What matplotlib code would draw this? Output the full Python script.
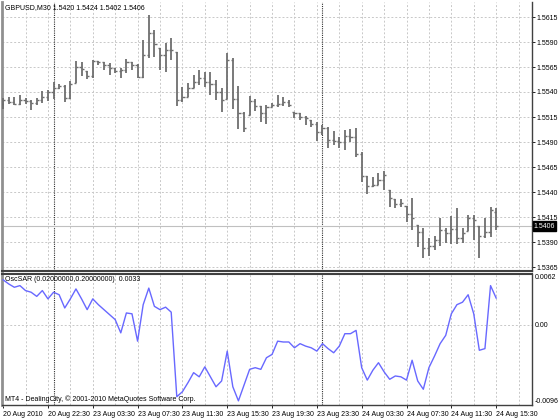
import matplotlib
matplotlib.use("Agg")
import matplotlib.pyplot as plt

plt.rcParams['font.family'] = ['Liberation Sans', 'DejaVu Sans']

# ---------------- data ----------------
symbol_header = "GBPUSD,M30 1.5420 1.5424 1.5402 1.5406"
osc_title = "OscSAR (0.02000000,0.20000000)  0.0033"
footer = "MT4 - DealingCity, \u00a9 2001-2010 MetaQuotes Software Corp."

opens = [1.5528, 1.5532, 1.5530, 1.5528, 1.5532, 1.5531, 1.5529, 1.5532, 1.5535, 1.5540,
         1.5544, 1.5546, 1.5534, 1.5549, 1.5565, 1.5561, 1.5556, 1.5571, 1.5570, 1.5567,
         1.5564, 1.5561, 1.5562, 1.5570, 1.5567, 1.5555, 1.5577, 1.5599, 1.5584, 1.5577,
         1.5582, 1.5580, 1.5532, 1.5535, 1.5544, 1.5550, 1.5554, 1.5550, 1.5548, 1.5540,
         1.5533, 1.5572, 1.5533, 1.5519, 1.5517, 1.5531, 1.5526, 1.5519, 1.5525, 1.5527,
         1.5528, 1.5530, 1.5520, 1.5519, 1.5515, 1.5512, 1.5508, 1.5500, 1.5504, 1.5492,
         1.5491, 1.5490, 1.5496, 1.5495, 1.5478, 1.5456, 1.5446, 1.5447, 1.5452, 1.5442,
         1.5433, 1.5428, 1.5426, 1.5418, 1.5407, 1.5400, 1.5384, 1.5386, 1.5392, 1.5402,
         1.5399, 1.5403, 1.5394, 1.5401, 1.5414, 1.5406, 1.5396, 1.5400, 1.5420]
highs = [1.5534, 1.5535, 1.5535, 1.5537, 1.5534, 1.5532, 1.5534, 1.5541, 1.5542, 1.5550,
         1.5548, 1.5547, 1.5551, 1.5571, 1.5570, 1.5561, 1.5572, 1.5571, 1.5570, 1.5569,
         1.5564, 1.5564, 1.5573, 1.5570, 1.5568, 1.5592, 1.5617, 1.5602, 1.5584, 1.5589,
         1.5594, 1.5580, 1.5545, 1.5549, 1.5557, 1.5562, 1.5560, 1.5560, 1.5552, 1.5544,
         1.5579, 1.5574, 1.5546, 1.5520, 1.5536, 1.5533, 1.5526, 1.5527, 1.5529, 1.5537,
         1.5535, 1.5532, 1.5520, 1.5519, 1.5516, 1.5512, 1.5510, 1.5507, 1.5505, 1.5501,
         1.5495, 1.5502, 1.5503, 1.5504, 1.5480, 1.5456, 1.5455, 1.5459, 1.5461, 1.5442,
         1.5433, 1.5433, 1.5426, 1.5434, 1.5407, 1.5404, 1.5394, 1.5396, 1.5414, 1.5404,
         1.5416, 1.5424, 1.5404, 1.5417, 1.5417, 1.5406, 1.5414, 1.5425, 1.5424]
lows = [1.5523, 1.5528, 1.5527, 1.5527, 1.5528, 1.5522, 1.5527, 1.5529, 1.5531, 1.5533,
        1.5543, 1.5530, 1.5533, 1.5549, 1.5556, 1.5553, 1.5554, 1.5567, 1.5562, 1.5557,
        1.5559, 1.5554, 1.5559, 1.5562, 1.5554, 1.5554, 1.5574, 1.5575, 1.5562, 1.5560,
        1.5572, 1.5526, 1.5530, 1.5535, 1.5544, 1.5547, 1.5545, 1.5537, 1.5532, 1.5520,
        1.5533, 1.5523, 1.5503, 1.5500, 1.5517, 1.5521, 1.5510, 1.5508, 1.5525, 1.5525,
        1.5526, 1.5525, 1.5514, 1.5512, 1.5507, 1.5505, 1.5491, 1.5497, 1.5484, 1.5487,
        1.5484, 1.5482, 1.5490, 1.5475, 1.5450, 1.5438, 1.5445, 1.5447, 1.5442, 1.5425,
        1.5424, 1.5425, 1.5410, 1.5402, 1.5385, 1.5374, 1.5376, 1.5382, 1.5386, 1.5389,
        1.5388, 1.5388, 1.5389, 1.5401, 1.5392, 1.5374, 1.5394, 1.5395, 1.5402]
closes = [1.5532, 1.5530, 1.5528, 1.5532, 1.5531, 1.5529, 1.5532, 1.5535, 1.5540, 1.5544,
          1.5546, 1.5534, 1.5548, 1.5565, 1.5563, 1.5556, 1.5571, 1.5570, 1.5567, 1.5564,
          1.5561, 1.5562, 1.5570, 1.5567, 1.5555, 1.5577, 1.5599, 1.5588, 1.5577, 1.5582,
          1.5582, 1.5532, 1.5535, 1.5544, 1.5550, 1.5554, 1.5550, 1.5548, 1.5540, 1.5532,
          1.5572, 1.5533, 1.5519, 1.5504, 1.5531, 1.5526, 1.5519, 1.5525, 1.5527, 1.5528,
          1.5530, 1.5527, 1.5519, 1.5515, 1.5514, 1.5508, 1.5500, 1.5504, 1.5492, 1.5491,
          1.5490, 1.5496, 1.5495, 1.5478, 1.5456, 1.5446, 1.5447, 1.5452, 1.5457, 1.5434,
          1.5428, 1.5429, 1.5418, 1.5414, 1.5400, 1.5384, 1.5386, 1.5392, 1.5402, 1.5399,
          1.5403, 1.5394, 1.5399, 1.5414, 1.5412, 1.5396, 1.5400, 1.5422, 1.5406]
osc = [0.0055, 0.0050, 0.0046, 0.0048, 0.0042, 0.0040, 0.0035, 0.0042, 0.0032, 0.0040,
       0.0037, 0.0021, 0.0032, 0.0044, 0.0032, 0.0019, 0.0032, 0.0025, 0.0019, 0.0013,
       0.0007, -0.0009, 0.0015, 0.0014, -0.0019, 0.0025, 0.0045, 0.0023, 0.0019, 0.0022,
       0.0016, -0.0086, -0.0080, -0.0069, -0.0057, -0.0062, -0.0050, -0.0062, -0.0074, -0.0067,
       -0.0031, -0.0074, -0.0091, -0.0072, -0.0053, -0.0051, -0.0053, -0.0039, -0.0035, -0.0019,
       -0.0020, -0.0020, -0.0027, -0.0022, -0.0025, -0.0027, -0.0031, -0.0022, -0.0028, -0.0033,
       -0.0025, -0.0010, -0.0010, -0.0006, -0.0051, -0.0066, -0.0054, -0.0045, -0.0056, -0.0065,
       -0.0061, -0.0062, -0.0066, -0.0042, -0.0067, -0.0077, -0.0051, -0.0037, -0.0022, -0.0012,
       0.0014, 0.0025, 0.0028, 0.0037, 0.0014, -0.0030, -0.0028, 0.0048, 0.0033]

price_levels = [1.5615, 1.5590, 1.5565, 1.5540, 1.5515, 1.5490, 1.5465, 1.5440, 1.5415, 1.5390, 1.5365]
price_labels = ["1.5615", "1.5590", "1.5565", "1.5540", "1.5515", "1.5490", "1.5465", "1.5440", "1.5415", "1.5390", "1.5365"]
time_pos = [0, 8, 16, 24, 32, 40, 48, 56, 64, 72, 80, 88]
time_labels = ["20 Aug 2010", "20 Aug 22:30", "23 Aug 03:30", "23 Aug 07:30", "23 Aug 11:30",
               "23 Aug 15:30", "23 Aug 19:30", "23 Aug 23:30", "24 Aug 03:30", "24 Aug 07:30",
               "24 Aug 11:30", "24 Aug 15:30"]
day_separators = [9, 57]
osc_levels = [0.0062, 0.0, -0.0096]
osc_labels = ["0.0062", "0.00", "-0.0096"]

# ---------------- figure ----------------
W, H = 560, 420
fig = plt.figure(figsize=(W / 100, H / 100), dpi=100, facecolor='white')
ax1 = fig.add_axes([2 / W, 1 - 271 / H, 530 / W, 269 / H])
ax2 = fig.add_axes([2 / W, 1 - 405 / H, 530 / W, 131 / H])

FS = 5.0
GRID = dict(color='#c8c8c8', linestyle=(0, (2, 2)), linewidth=0.7)
x = list(range(len(closes)))
xlim = (-0.2, 94.4)

for ax in (ax1, ax2):
    ax.set_xlim(*xlim)
    ax.set_facecolor('white')
    for gx in range(4, 95, 4):
        ax.axvline(gx, zorder=0, **GRID)
    for d in day_separators:
        ax.axvline(d, color='#303030', linestyle=(0, (1, 1)), linewidth=0.8, zorder=1)
    ax.spines['left'].set_color('#909090')
    ax.spines['left'].set_linewidth(2.0)
    ax.spines['right'].set_color('#404040')
    ax.spines['right'].set_linewidth(1.0)
    ax.tick_params(axis='x', which='both', bottom=False, labelbottom=False)

# main panel
ax1.set_ylim(1.5361, 1.5630)
for lv in price_levels:
    ax1.axhline(lv, zorder=0, **GRID)
ax1.axhline(closes[-1], color='#c0c0c0', linewidth=0.8, zorder=1)
bar_col = '#6e6e6e'
ax1.vlines(x, lows, highs, color=bar_col, linewidth=1.3, zorder=3)
ax1.hlines(opens, [i - 0.38 for i in x], x, color=bar_col, linewidth=1.0, zorder=3)
ax1.hlines(closes, x, [i + 0.38 for i in x], color=bar_col, linewidth=1.0, zorder=3)
ax1.yaxis.tick_right()
ax1.set_yticks(price_levels)
ax1.set_yticklabels(price_labels)
ax1.tick_params(axis='y', length=2, width=0.6, pad=1.0, labelsize=FS, colors='black')
ax1.spines['top'].set_visible(False)
ax1.spines['bottom'].set_color('#404040')
ax1.spines['bottom'].set_linewidth(1.5)
ax1.text(0.006, 0.992, symbol_header, transform=ax1.transAxes, fontsize=FS,
         va='top', ha='left')
ax1.text(1.003, closes[-1], "%.4f" % closes[-1], transform=ax1.get_yaxis_transform(),
         fontsize=FS, color='white', va='center', ha='left',
         bbox=dict(boxstyle='square,pad=0.15', facecolor='black', edgecolor='black'),
         clip_on=False)

# indicator panel
ax2.set_ylim(osc_levels[2], osc_levels[0])
ax2.axhline(0.0, zorder=0, **GRID)
ax2.plot(x, osc, color='#6868ff', linewidth=1.0, zorder=3)
ax2.set_yticks([])
ax2.spines['top'].set_color('#404040')
ax2.spines['top'].set_linewidth(1.5)
ax2.spines['bottom'].set_color('#404040')
ax2.spines['bottom'].set_linewidth(1.0)
tr = ax2.get_yaxis_transform()
ax2.text(1.006, osc_levels[0], osc_labels[0], transform=tr, fontsize=FS, va='top', ha='left')
ax2.text(1.006, osc_levels[1], osc_labels[1], transform=tr, fontsize=FS, va='center', ha='left')
ax2.text(1.006, osc_levels[2], osc_labels[2], transform=tr, fontsize=FS, va='bottom', ha='left')
ax2.text(0.006, 0.985, osc_title, transform=ax2.transAxes, fontsize=FS, va='top', ha='left')
ax2.text(0.006, 0.015, footer, transform=ax2.transAxes, fontsize=FS, va='bottom', ha='left')

# time axis
ax2.tick_params(axis='x', which='major', bottom=True, labelbottom=True, length=2.5,
                width=0.6, pad=1.5, labelsize=FS)
ax2.set_xticks(time_pos)
ax2.set_xticklabels(time_labels)
for lbl in ax2.get_xticklabels():
    lbl.set_horizontalalignment('left')

fig.savefig("out.png", dpi=100, facecolor='white')
